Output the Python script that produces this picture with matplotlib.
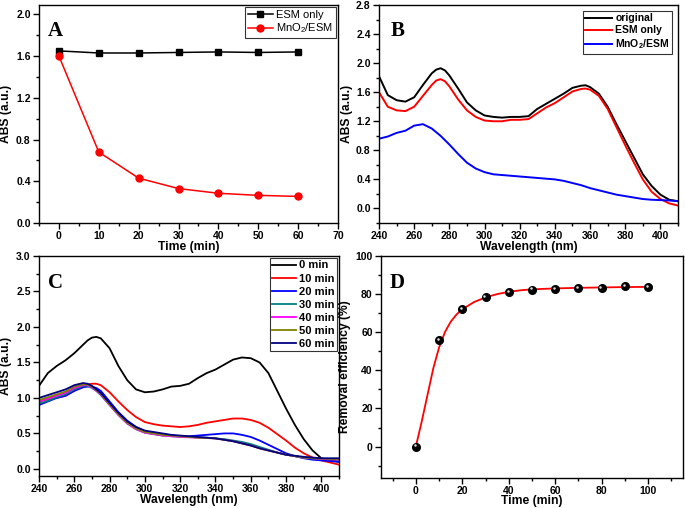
import numpy as np
import matplotlib
matplotlib.use("Agg")
import matplotlib.pyplot as plt
from matplotlib.ticker import MultipleLocator, FormatStrFormatter
from matplotlib.transforms import ScaledTranslation

plt.rcParams['font.family'] = ['Liberation Sans', 'DejaVu Sans']
plt.rcParams['mathtext.fontset'] = 'custom'
plt.rcParams['mathtext.rm'] = 'Liberation Sans'
plt.rcParams['mathtext.bf'] = 'Liberation Sans:bold'

# ---------------- Panel A data ----------------
time_a = [0, 10, 20, 30, 40, 50, 60]
esm_only_a = [1.65, 1.63, 1.63, 1.635, 1.64, 1.635, 1.64]
mno2_esm_a = [1.60, 0.68, 0.43, 0.33, 0.285, 0.265, 0.255]

# ---------------- Panel B data ----------------
wl = [240, 245, 250, 255, 260, 265, 270, 272.5, 275, 277.5, 280, 285, 290, 295, 300, 305, 310,
      315, 320, 325, 330, 335, 340, 345, 350, 355, 357.5, 360, 365, 370, 375, 380, 385,
      390, 395, 400, 405, 410]
original_b = [1.82, 1.56, 1.49, 1.47, 1.53, 1.70, 1.86, 1.91, 1.93, 1.90, 1.83, 1.65, 1.46, 1.35,
              1.28, 1.26, 1.25, 1.26, 1.26, 1.27, 1.37, 1.44, 1.51, 1.58, 1.66, 1.69, 1.695,
              1.67, 1.58, 1.40, 1.16, 0.93, 0.70, 0.47, 0.31, 0.19, 0.12, 0.10]
esm_only_b = [1.60, 1.40, 1.35, 1.34, 1.40, 1.55, 1.70, 1.76, 1.78, 1.75, 1.68, 1.50, 1.35, 1.26,
              1.21, 1.20, 1.20, 1.22, 1.22, 1.23, 1.31, 1.39, 1.45, 1.53, 1.61, 1.645, 1.65,
              1.635, 1.55, 1.37, 1.12, 0.87, 0.63, 0.40, 0.23, 0.13, 0.07, 0.04]
mno2_esm_b = [0.96, 0.99, 1.04, 1.07, 1.14, 1.16, 1.10, 1.05, 1.00, 0.94, 0.88, 0.75, 0.63, 0.55,
              0.50, 0.47, 0.46, 0.45, 0.44, 0.43, 0.42, 0.41, 0.40, 0.38, 0.35, 0.32, 0.30,
              0.28, 0.25, 0.22, 0.19, 0.17, 0.15, 0.13, 0.12, 0.115, 0.11, 0.10]

# ---------------- Panel C data ----------------
wl_c = [240, 245, 250, 255, 260, 265, 267.5, 270, 272.5, 275, 280, 285, 290, 295, 300, 305, 310,
        315, 320, 325, 330, 335, 340, 345, 350, 355, 360, 365, 370, 375, 380, 385,
        390, 395, 400, 405, 410]
c_0 = [1.17, 1.35, 1.45, 1.53, 1.63, 1.75, 1.81, 1.85, 1.86, 1.84, 1.70, 1.45, 1.25, 1.12, 1.08,
       1.09, 1.12, 1.16, 1.17, 1.20, 1.28, 1.35, 1.40, 1.47, 1.54, 1.57, 1.56, 1.50,
       1.35, 1.10, 0.85, 0.62, 0.42, 0.26, 0.15, 0.12, 0.10]
c_10 = [0.95, 0.98, 1.00, 1.03, 1.10, 1.16, 1.19, 1.20, 1.20, 1.18, 1.08, 0.95, 0.83, 0.73, 0.66,
        0.63, 0.61, 0.60, 0.59, 0.60, 0.62, 0.65, 0.67, 0.69, 0.71, 0.71, 0.69, 0.65,
        0.58, 0.49, 0.40, 0.30, 0.22, 0.16, 0.12, 0.09, 0.06]
c_20 = [0.90, 0.95, 1.00, 1.03, 1.10, 1.15, 1.16, 1.16, 1.14, 1.10, 0.95, 0.80, 0.68, 0.59, 0.53,
        0.50, 0.48, 0.47, 0.46, 0.46, 0.47, 0.48, 0.49, 0.50, 0.50, 0.48, 0.45, 0.40,
        0.34, 0.28, 0.22, 0.18, 0.15, 0.13, 0.12, 0.11, 0.10]
c_30 = [0.92, 0.96, 1.01, 1.05, 1.12, 1.17, 1.17, 1.14, 1.10, 1.04, 0.90, 0.76, 0.64, 0.56, 0.51,
        0.49, 0.47, 0.46, 0.455, 0.45, 0.445, 0.44, 0.43, 0.42, 0.40, 0.38, 0.35, 0.31,
        0.27, 0.23, 0.20, 0.18, 0.16, 0.15, 0.14, 0.135, 0.13]
c_40 = [0.95, 0.99, 1.03, 1.07, 1.14, 1.18, 1.18, 1.15, 1.10, 1.05, 0.90, 0.76, 0.64, 0.56, 0.51,
        0.49, 0.47, 0.46, 0.45, 0.445, 0.44, 0.435, 0.43, 0.41, 0.39, 0.36, 0.33, 0.29,
        0.26, 0.23, 0.20, 0.18, 0.16, 0.15, 0.14, 0.135, 0.13]
c_50 = [0.97, 1.01, 1.05, 1.09, 1.16, 1.19, 1.19, 1.16, 1.11, 1.06, 0.91, 0.77, 0.65, 0.57, 0.52,
        0.50, 0.48, 0.47, 0.46, 0.45, 0.44, 0.435, 0.43, 0.41, 0.39, 0.36, 0.33, 0.29,
        0.26, 0.23, 0.20, 0.18, 0.16, 0.15, 0.145, 0.14, 0.14]
c_60 = [1.00, 1.04, 1.08, 1.12, 1.18, 1.21, 1.20, 1.17, 1.12, 1.07, 0.93, 0.79, 0.67, 0.59, 0.54,
        0.52, 0.50, 0.48, 0.47, 0.46, 0.45, 0.44, 0.43, 0.41, 0.39, 0.36, 0.33, 0.29,
        0.26, 0.23, 0.20, 0.185, 0.17, 0.16, 0.15, 0.15, 0.15]
c_series = [c_0, c_10, c_20, c_30, c_40, c_50, c_60]
c_labels = ['0 min', '10 min', '20 min', '30 min', '40 min', '50 min', '60 min']
c_colors = ['#000000', '#ff0000', '#0000ff', '#008080', '#ff00ff', '#808000', '#000080']

# ---------------- Panel D data ----------------
time_d = [0, 10, 20, 30, 40, 50, 60, 70, 80, 90, 100]
removal_d = [0, 56, 72, 78.3, 81, 82.3, 82.8, 83.3, 83.3, 84, 83.5]
fit_t = [0, 2.5, 5, 7.5, 10, 12.5, 15, 17.5, 20, 25, 30, 35, 40, 45, 50, 60, 70, 80, 90, 100]
fit_v = [0, 13, 27, 41, 52, 60, 65.5, 69.3, 72, 75.8, 78.3, 80, 81.2, 82, 82.5, 83, 83.3,
         83.5, 83.7, 83.8]

fig = plt.figure(figsize=(6.85, 5.08), dpi=100)

W, H = 685.0, 508.0
def box(l, t, r, b):
    return [l / W, 1 - b / H, (r - l) / W, (b - t) / H]

axA = fig.add_axes(box(39, 5, 338, 223))
axB = fig.add_axes(box(379, 5, 678, 223))
axC = fig.add_axes(box(39, 256, 339, 476))
axD = fig.add_axes(box(381, 256, 683, 478))

TICK_FS = 7.5
LAB_FS = 8.7

def style(ax, xmaj, xmin, ymaj, ymin, yfmt):
    ax.xaxis.set_major_locator(MultipleLocator(xmaj))
    ax.xaxis.set_minor_locator(MultipleLocator(xmin))
    ax.yaxis.set_major_locator(MultipleLocator(ymaj))
    ax.yaxis.set_minor_locator(MultipleLocator(ymin))
    if yfmt:
        ax.yaxis.set_major_formatter(FormatStrFormatter(yfmt))
    ax.tick_params(which='major', direction='out', length=4, width=1, labelsize=TICK_FS, pad=2)
    ax.tick_params(which='minor', direction='out', length=2.5, width=1)
    for lab in ax.get_xticklabels() + ax.get_yticklabels():
        lab.set_fontweight('bold')
    for s in ax.spines.values():
        s.set_linewidth(1.0)

def letter(ax, txt, x):
    ax.text(x, 0.925, txt, transform=ax.transAxes, fontsize=15, fontweight='bold',
            family='Liberation Serif', va='top', ha='left')

# Panel A
axA.plot(time_a, esm_only_a, '-s', color='black', lw=1.1, ms=4.5, label='ESM only')
axA.plot(time_a, mno2_esm_a, '-o', color='red', lw=1.1, ms=5, label='MnO$_2$/ESM')
axA.set_xlim(-5, 70)
axA.set_ylim(0, 2.09)
style(axA, 10, 5, 0.4, 0.2, '%.1f')
axA.set_xlabel('Time (min)', fontsize=LAB_FS, fontweight='bold', labelpad=0)
axA.set_ylabel('ABS (a.u.)', fontsize=LAB_FS, fontweight='bold', labelpad=3)
legA = axA.legend(loc='upper right', fontsize=8, frameon=True, fancybox=False,
                  edgecolor='black', borderpad=0.25, handlelength=2.2, handletextpad=0.3,
                  labelspacing=0.15, borderaxespad=0.2)
legA.get_frame().set_linewidth(0.8)
letter(axA, 'A', 0.03)

# Panel B
axB.plot(wl, original_b, color='black', lw=1.4, label='original')
axB.plot(wl, esm_only_b, color='red', lw=1.4, label='ESM only')
axB.plot(wl, mno2_esm_b, color='blue', lw=1.4, label='MnO$_\\mathbf{2}$/ESM')
axB.set_xlim(240, 410)
axB.set_ylim(-0.2, 2.8)
style(axB, 20, 10, 0.4, 0.2, '%.1f')
axB.set_xlabel('Wavelength (nm)', fontsize=LAB_FS, fontweight='bold', labelpad=0)
axB.set_ylabel('ABS (a.u.)', fontsize=LAB_FS, fontweight='bold', labelpad=2)
legB = axB.legend(loc='upper right', prop={'size': 7.5, 'weight': 'bold'}, frameon=True,
                  fancybox=False, edgecolor='black', borderpad=0.25, handlelength=2.6,
                  handletextpad=0.3, labelspacing=0.2, borderaxespad=0.55)
legB.get_frame().set_linewidth(0.8)
letter(axB, 'B', 0.04)

# Panel C
for ys, lab, col in zip(c_series, c_labels, c_colors):
    axC.plot(wl_c, ys, color=col, lw=1.3, label=lab)
axC.set_xlim(240, 410)
axC.set_ylim(-0.1, 3.0)
style(axC, 20, 10, 0.5, 0.25, '%.1f')
axC.set_xlabel('Wavelength (nm)', fontsize=LAB_FS, fontweight='bold', labelpad=0)
axC.set_ylabel('ABS (a.u.)', fontsize=LAB_FS, fontweight='bold', labelpad=3)
legC = axC.legend(loc='upper right', prop={'size': 8, 'weight': 'bold'}, frameon=True,
                  fancybox=False, edgecolor='black', borderpad=0.2, handlelength=2.1,
                  handletextpad=0.3, labelspacing=0.28, borderaxespad=0.2)
legC.get_frame().set_linewidth(0.8)
letter(axC, 'C', 0.03)

# Panel D
axD.plot(fit_t, fit_v, color='red', lw=1.3, zorder=2)
axD.plot(time_d, removal_d, 'o', color='black', ms=5.5, zorder=3)
off = ScaledTranslation(-0.9 / 72, 0.9 / 72, fig.dpi_scale_trans)
axD.plot(time_d, removal_d, 'o', color='#e0e0e0', ms=1.8, mew=0, zorder=4,
         transform=axD.transData + off)
axD.set_xlim(-15, 115)
axD.set_ylim(-16.5, 100)
style(axD, 20, 10, 20, 10, None)
axD.set_xlabel('Time (min)', fontsize=LAB_FS, fontweight='bold', labelpad=-1)
axD.set_ylabel('Removal efficiency (%)', fontsize=LAB_FS, fontweight='bold', labelpad=3)
letter(axD, 'D', 0.03)

fig.savefig('out.png', dpi=100)
